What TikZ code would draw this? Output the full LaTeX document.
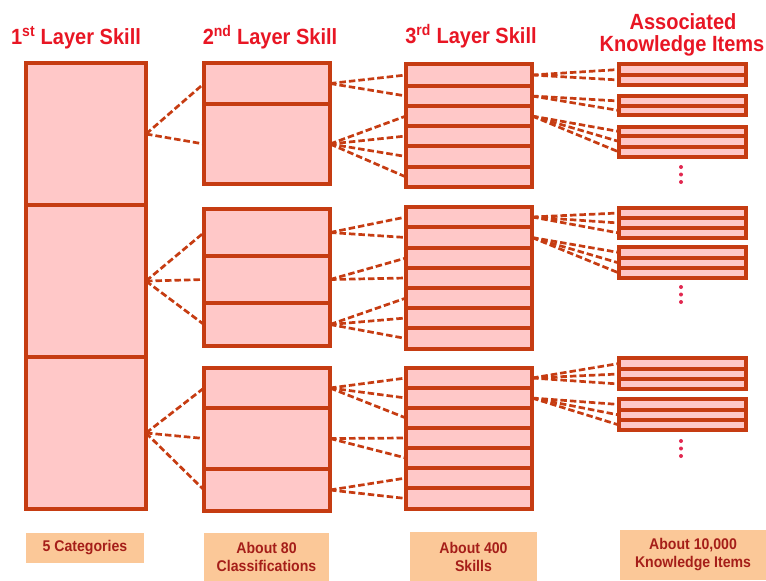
\documentclass[tikz,border=0pt]{standalone}
\usepackage{fontspec}
\setmainfont{Liberation Sans}[FakeStretch=0.91]
\definecolor{edge}{RGB}{198,60,18}
\definecolor{cellfill}{RGB}{255,200,200}
\definecolor{tagfill}{RGB}{251,200,152}
\definecolor{headred}{RGB}{232,22,36}
\definecolor{tagtext}{RGB}{165,30,25}
\definecolor{dotred}{RGB}{225,40,80}
\begin{document}
\begin{tikzpicture}[x=1pt,y=-1pt,
  cell/.style={draw=edge, fill=cellfill, line width=3.4pt, rectangle,
    inner sep=0pt, outer sep=0pt},
  link/.style={draw=edge, line width=2.7pt, dash pattern=on 6.5pt off 3pt},
  head/.style={text=headred, font=\fontsize{22}{24}\selectfont\bfseries, anchor=base},
  tag/.style={fill=tagfill, text=tagtext, inner sep=0pt, align=center,
    font=\fontsize{15.5}{18}\selectfont\bfseries},
  vdot/.style={fill=dotred, draw=none, circle, inner sep=0pt, minimum size=4pt}]
\useasboundingbox (0,0) rectangle (766,581);

% column headings
\node[head] (h1) at (76,44) {1\textsuperscript{st} Layer Skill};
\node[head] (h2) at (270,44) {2\textsuperscript{nd} Layer Skill};
\node[head] (h3) at (471,43) {3\textsuperscript{rd} Layer Skill};
\node[head] (h4a) at (683,29) {Associated};
\node[head] (h4b) at (682,51) {Knowledge Items};

% 1st layer: categories
\foreach \n/\t/\b in {p1/63/205, p2/205/357, p3/357/509}
  \node[cell, minimum width=120pt, minimum height={(\b-\t)*1pt}] (\n) at (86,{(\t+\b)/2}) {};

% 2nd layer: classifications
\foreach \n/\t/\b in {q11/63/104, q12/104/184,
                      q21/209/256, q22/256/303, q23/303/346,
                      q31/368/408, q32/408/469, q33/469/511}
  \node[cell, minimum width=126pt, minimum height={(\b-\t)*1pt}] (\n) at (267,{(\t+\b)/2}) {};

% 3rd layer: skills
\foreach \n/\t/\b in {r11/64/86, r12/86/106, r13/106/126, r14/126/146, r15/146/167, r16/167/187,
                      r21/207/227, r22/227/248, r23/248/268, r24/268/288, r25/288/308, r26/308/328, r27/328/349,
                      r31/368/388, r32/388/408, r33/408/428, r34/428/448, r35/448/468, r36/468/488, r37/488/509}
  \node[cell, minimum width=126pt, minimum height={(\b-\t)*1pt}] (\n) at (469,{(\t+\b)/2}) {};

% knowledge items
\foreach \n/\t/\b in {kA1a/64/75, kA1b/75/85,
                      kA2a/96/106, kA2b/106/115,
                      kA3a/127/136, kA3b/136/147, kA3c/147/157,
                      kB1a/208/218, kB1b/218/228, kB1c/228/238,
                      kB2a/247/258, kB2b/258/268, kB2c/268/278,
                      kC1a/358/369, kC1b/369/379, kC1c/379/389,
                      kC2a/399/410, kC2b/410/420, kC2c/420/430}
  \node[cell, minimum width=127pt, minimum height={(\b-\t)*1pt}] (\n) at (682.5,{(\t+\b)/2}) {};

% dashed links between layers
\foreach \s/\d in {p1/q11, p1/q12, p2/q21, p2/q22, p2/q23, p3/q31, p3/q32, p3/q33,
                   q11/r11, q11/r12, q12/r13, q12/r14, q12/r15, q12/r16,
                   q21/r21, q21/r22, q22/r23, q22/r24, q23/r25, q23/r26, q23/r27,
                   q31/r31, q31/r32, q31/r33, q32/r34, q32/r35, q33/r36, q33/r37,
                   r11/kA1a, r11/kA1b, r12/kA2a, r12/kA2b, r13/kA3a, r13/kA3b, r13/kA3c,
                   r21/kB1a, r21/kB1b, r21/kB1c, r22/kB2a, r22/kB2b, r22/kB2c,
                   r31/kC1a, r31/kC1b, r31/kC1c, r32/kC2a, r32/kC2b, r32/kC2c}
  \draw[link] (\s.east) -- (\d.west);

% vertical ellipses
\foreach \g/\y in {A/167, B/287, C/441} {
  \node[vdot] (d\g1) at (681,\y) {};
  \node[vdot] (d\g2) at (681,\y+7.5) {};
  \node[vdot] (d\g3) at (681,\y+15) {};
}

% counts under each column
\node[tag, minimum width=118pt, minimum height=30pt] (t1) at (85,548) {5 Categories};
\node[tag, minimum width=125pt, minimum height=48pt] (t2) at (266.5,557) {About 80\\Classifications};
\node[tag, minimum width=127pt, minimum height=49pt] (t3) at (473.5,556.5) {About 400\\Skills};
\node[tag, minimum width=146pt, minimum height=50pt] (t4) at (693,555) {About 10,000\\Knowledge Items};
\end{tikzpicture}
\end{document}
